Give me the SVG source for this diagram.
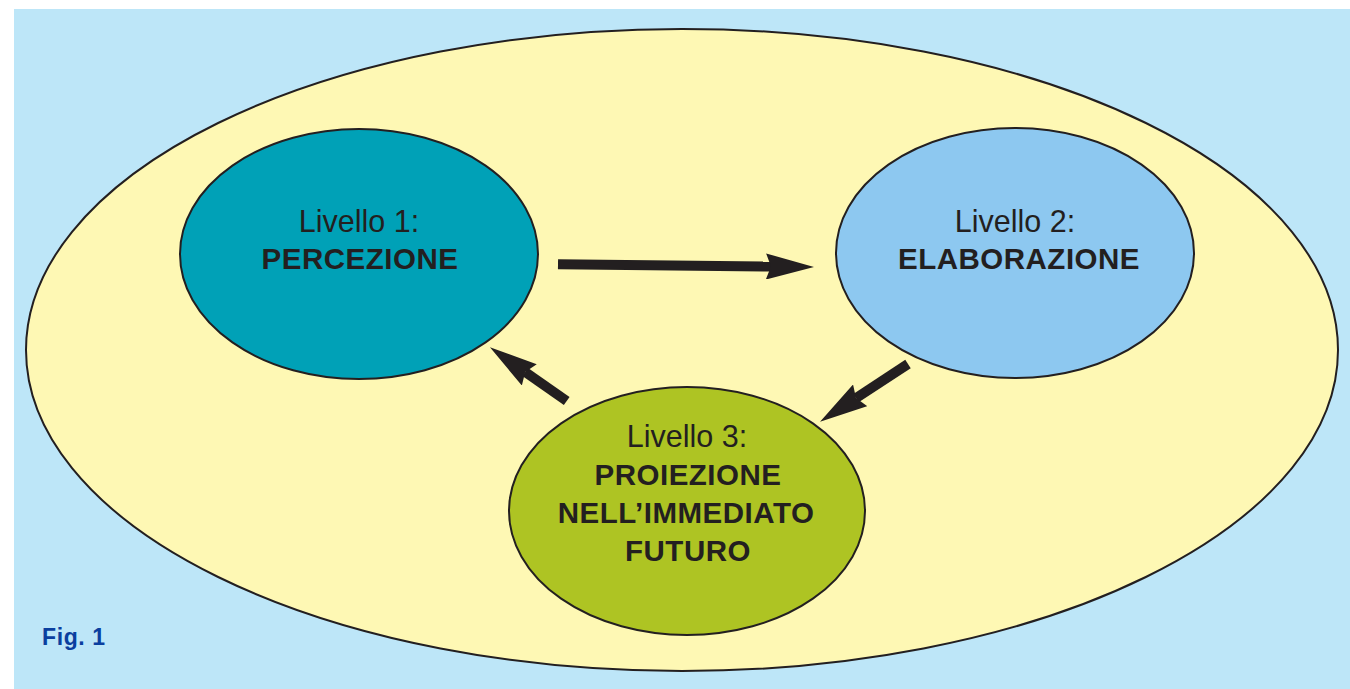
<svg xmlns="http://www.w3.org/2000/svg" width="1350" height="689" viewBox="0 0 1350 689">
<style>
.node{stroke:#231f20;stroke-width:2}
.lv{font-family:"Liberation Sans",Arial,sans-serif;font-size:30.5px;fill:#231f20;text-anchor:middle}
.tt{font-family:"Liberation Sans",Arial,sans-serif;font-size:29.5px;font-weight:bold;fill:#231f20;text-anchor:middle;letter-spacing:0.5px}
.conn{stroke:#231f20;stroke-width:10;fill:none;marker-end:url(#ah)}
</style>
<defs>
<marker id="ah" markerUnits="userSpaceOnUse" viewBox="0 -13 48 26" markerWidth="48" markerHeight="26" refX="5" refY="0" orient="auto">
<path d="M0,-13 L48,0 L0,13 L5,0 Z" fill="#231f20"/>
</marker>
</defs>
<rect x="0" y="0" width="1350" height="689" fill="#ffffff"/>
<rect x="14" y="9" width="1336" height="680" fill="#bde6f8"/>
<g id="context">
<ellipse class="node" cx="682" cy="350" rx="656" ry="321" fill="#fef8b4"/>
</g>
<g id="n1">
<ellipse class="node" cx="359" cy="254" rx="179" ry="125" fill="#00a1b7"/>
<text class="lv" x="359" y="232">Livello 1:</text>
<text class="tt" x="360" y="269">PERCEZIONE</text>
</g>
<g id="n2">
<ellipse class="node" cx="1015" cy="253" rx="179" ry="125" fill="#8dc8f0"/>
<text class="lv" x="1015" y="232">Livello 2:</text>
<text class="tt" x="1019" y="269">ELABORAZIONE</text>
</g>
<g id="n3">
<ellipse class="node" cx="687" cy="511" rx="178" ry="124" fill="#aec423"/>
<text class="lv" x="687" y="447">Livello 3:</text>
<text class="tt" x="688" y="485">PROIEZIONE</text>
<text class="tt" x="686" y="523">NELL’IMMEDIATO</text>
<text class="tt" x="688" y="561">FUTURO</text>
</g>
<g id="connectors">
<line class="conn" x1="558" y1="264.3" x2="771" y2="266.5"/>
<line class="conn" x1="566.7" y1="401" x2="525.2" y2="372"/>
<line class="conn" x1="908" y1="364" x2="856" y2="398.1"/>
</g>
<text x="42" y="645" font-family="Liberation Sans,Arial,sans-serif" font-size="23" font-weight="bold" fill="#0b3f9f" letter-spacing="0.6">Fig. 1</text>
</svg>
